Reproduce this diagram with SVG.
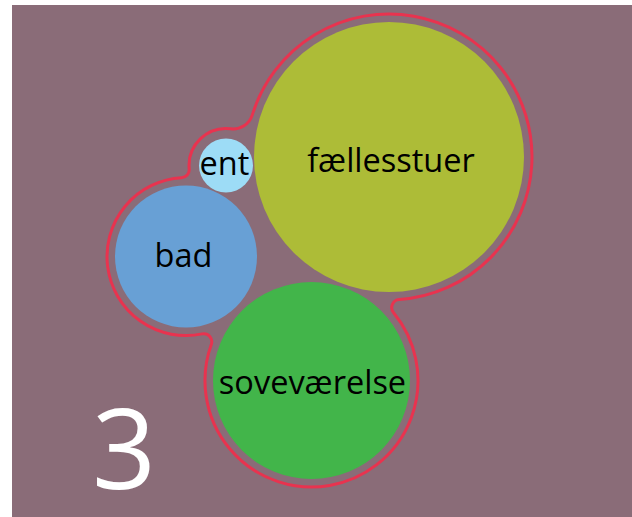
<svg xmlns="http://www.w3.org/2000/svg" width="632" height="517" viewBox="0 0 632 517">
  <style>
    .room text { font-family: "Open Sans", "Noto Sans", "Liberation Sans", sans-serif; font-size: 32.5px; fill: #000; text-anchor: middle; }
    .outline { fill: none; stroke: #E8334F; stroke-width: 3; stroke-linejoin: round; }
    .num { font-family: "Open Sans", "Noto Sans", "Liberation Sans", sans-serif; font-size: 112px; fill: #fff; }
  </style>

  <!-- backdrop -->
  <rect x="12" y="5" width="620" height="512" fill="#8A6C78"/>

  <!-- boundary line around the room cluster -->
  <g id="connectors">
    <path class="outline" d="M252.3,114.9 A143,143 0 1 1 399.2,299.6 A8,8 0 0 0 393.6,312.7 A106.5,106.5 0 1 1 211.3,344.4 A8,8 0 0 0 202.2,333.9 A79,79 0 1 1 181.6,177.7 A8,8 0 0 0 189.2,169.0 A37,37 0 0 1 230.7,128.8 A20,20 0 0 0 252.3,114.9 Z"/>
  </g>

  <g id="faellesstuer" class="room">
    <circle cx="389" cy="157" r="135" fill="#ADBC37"/>
    <text x="391" y="172">fællesstuer</text>
  </g>

  <g id="ent" class="room">
    <circle cx="226" cy="165.5" r="27" fill="#9DDCF6"/>
    <text x="224.5" y="175">ent</text>
  </g>

  <g id="bad" class="room">
    <circle cx="186" cy="256.5" r="71" fill="#68A0D5"/>
    <text x="183.5" y="267">bad</text>
  </g>

  <g id="sovevaerelse" class="room">
    <circle cx="311.5" cy="380.5" r="98.5" fill="#42B54A"/>
    <text x="312.5" y="394">soveværelse</text>
  </g>

  <text class="num" x="92" y="489">3</text>
</svg>
